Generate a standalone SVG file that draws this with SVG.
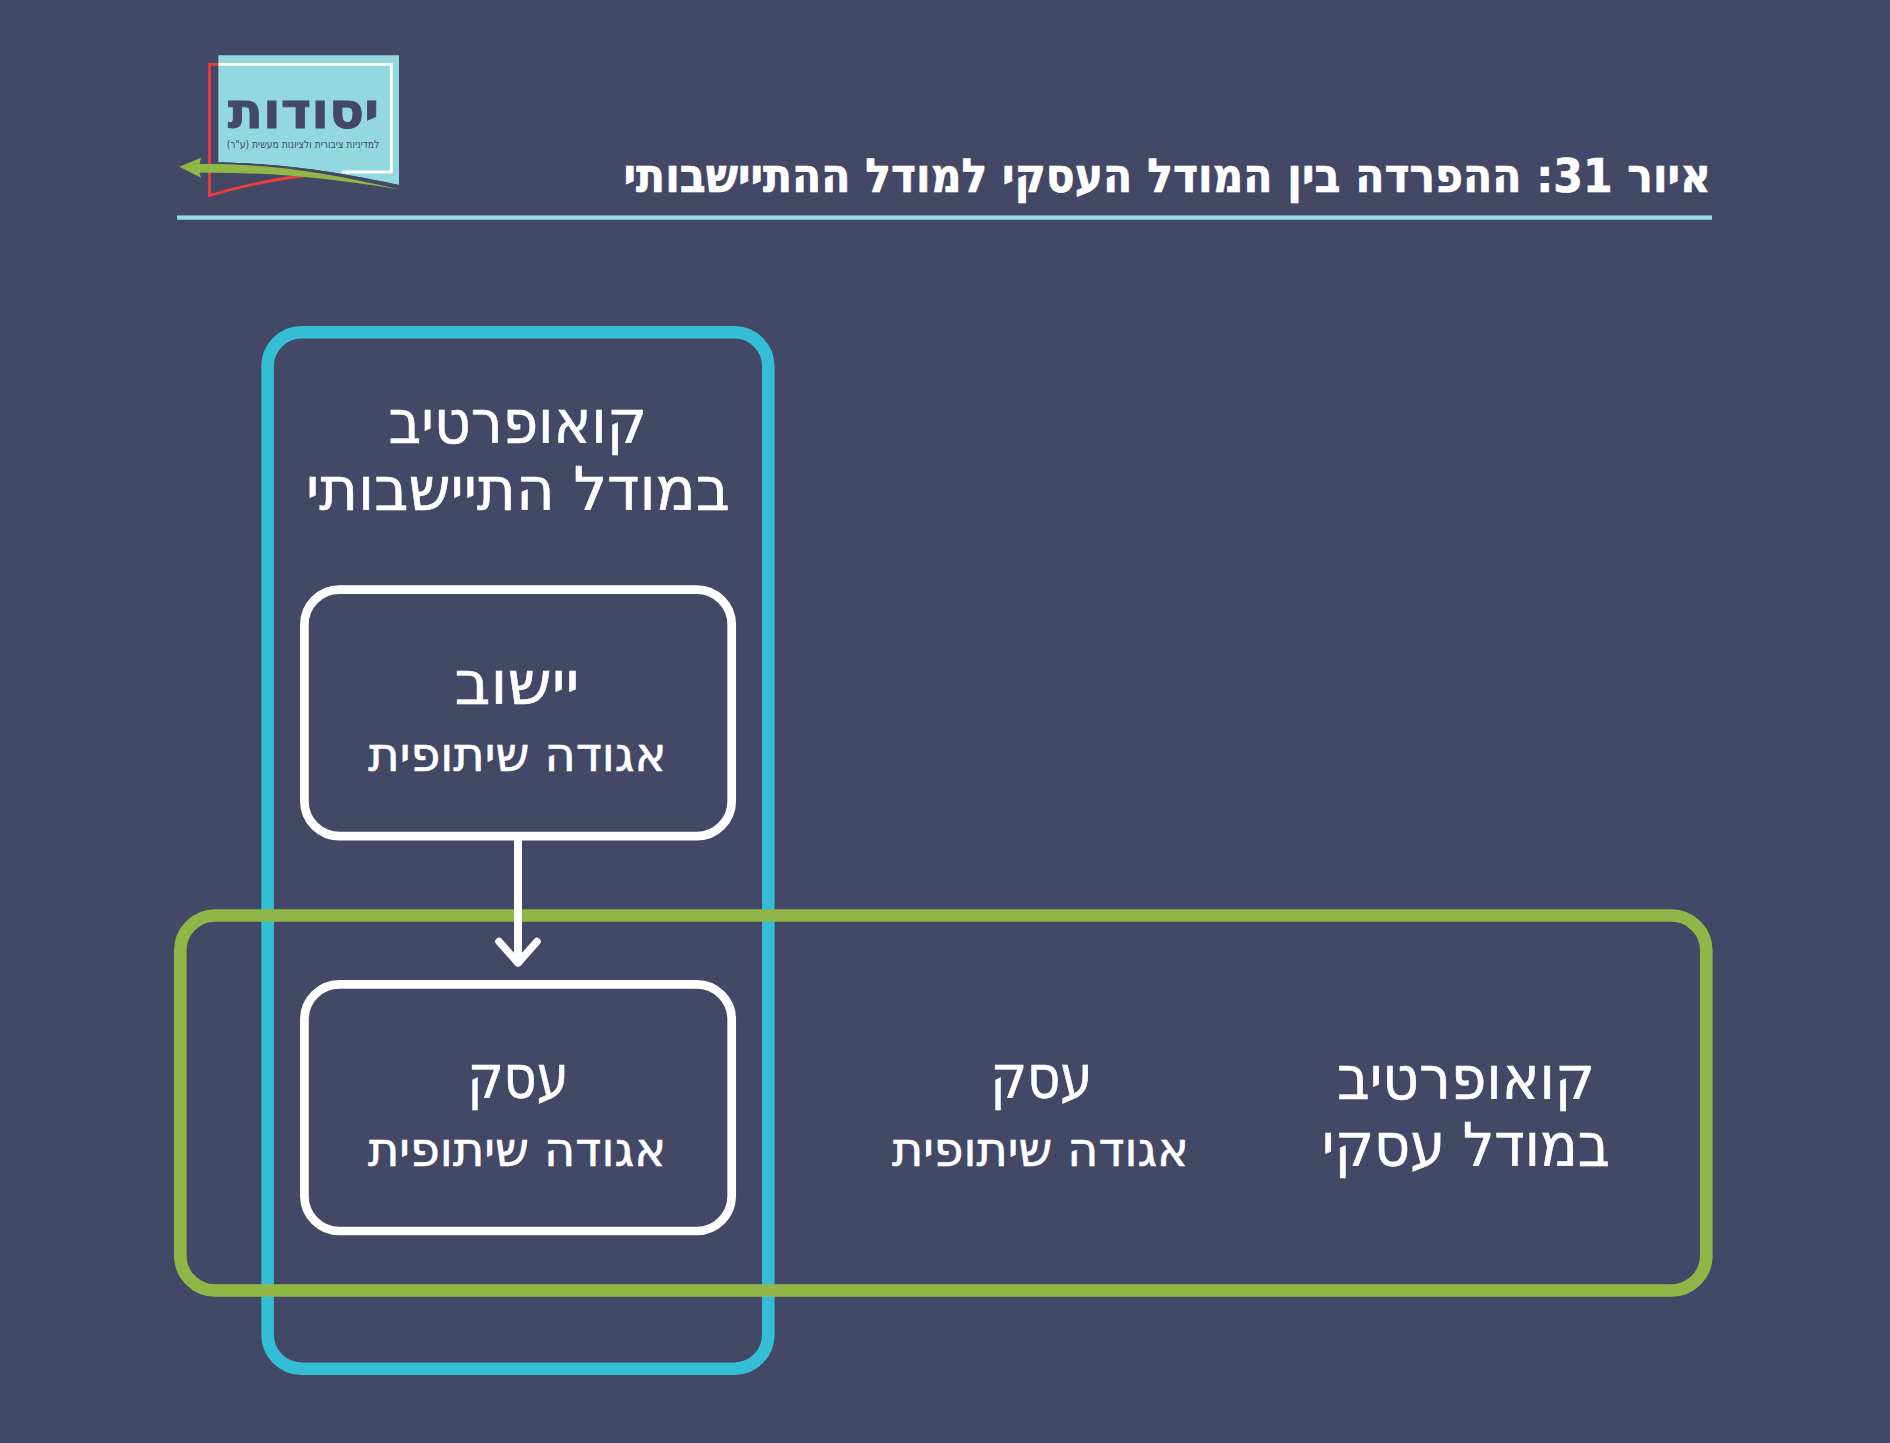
<svg xmlns="http://www.w3.org/2000/svg" width="1890" height="1443" viewBox="0 0 1890 1443">
<style>
.bg{fill:#434867}
.box{fill:none;stroke-linejoin:round}
.t{fill:#fff;font-family:"DejaVu Sans","Liberation Sans",sans-serif;direction:rtl;text-anchor:middle;stroke:#fff;stroke-width:.6px}
.h{font-size:60px}
.s{font-size:48px}
.lg{direction:rtl;text-anchor:middle;fill:#434867;font-family:"DejaVu Sans","Liberation Sans",sans-serif}
</style>
<rect class="bg" width="1890" height="1443"/>
<g id="logo">
<path d="M218.3 55.3H399V185C347 174 293 164 218.3 162.3Z" fill="#93d7e0"/>
<path d="M218.3 64.3H391.3V172H341.7" fill="none" stroke="#fff" stroke-width="2.8"/>
<path d="M218.3 64.3H209.5V195.5C245 185 285 177 320 174" fill="none" stroke="#ee3d38" stroke-width="2.8"/>
<path d="M218.3 162.3C293 164 347 174 399 185L400 187.5C340 176 290 167 218.3 165.6Z" fill="#434867"/>
<path d="M179.3 166.7L201 157.7L199.5 164C265 163 325 172 400 189.5C322 177 262 172 199.5 172.8L201 177.7Z" fill="#91b648"/>
<text class="lg" x="303.5" y="127.7" font-weight="700" font-size="50" stroke="#434867" stroke-width=".8" textLength="151.6" lengthAdjust="spacingAndGlyphs">יסודות</text>
<text class="lg" x="303" y="148.3" font-size="11" textLength="152.6" lengthAdjust="spacingAndGlyphs">למדיניות ציבורית ולציונות מעשית (ע"ר)</text>
</g>
<g id="title">
<text x="1167.3" y="192" stroke="#fff" stroke-width=".7" style="direction:rtl;text-anchor:middle;font-family:'DejaVu Sans','Liberation Sans',sans-serif;font-weight:700;font-size:47px;fill:#fff" textLength="1087.5" lengthAdjust="spacingAndGlyphs">איור 31: ההפרדה בין המודל העסקי למודל ההתיישבותי</text>
<rect x="177" y="215.4" width="1535" height="4.4" fill="#93d7e0"/>
</g>
<g id="settlement-model">
<rect class="box" x="267.6" y="332.3" width="500.7" height="1036.4" rx="34" stroke="#33bed5" stroke-width="12.6"/>
<text class="t h" x="517.8" y="443.4" textLength="258.4" lengthAdjust="spacingAndGlyphs">קואופרטיב</text>
<text class="t h" x="518" y="510.3" textLength="424.2" lengthAdjust="spacingAndGlyphs">במודל התיישבותי</text>
</g>
<g id="business-model">
<rect class="box" x="180.3" y="915.5" width="1526" height="375" rx="35" stroke="#91b648" stroke-width="12.6"/>
<text class="t h" x="1466" y="1099" textLength="258" lengthAdjust="spacingAndGlyphs">קואופרטיב</text>
<text class="t h" x="1466" y="1165.7" textLength="288" lengthAdjust="spacingAndGlyphs">במודל עסקי</text>
</g>
<g id="settlement">
<rect class="box" x="304.4" y="589.6" width="427.3" height="246.6" rx="35" stroke="#fff" stroke-width="8.7"/>
<text class="t h" x="517" y="703.7" textLength="125" lengthAdjust="spacingAndGlyphs">יישוב</text>
<text class="t s" x="517.4" y="770.7" textLength="298.2" lengthAdjust="spacingAndGlyphs">אגודה שיתופית</text>
</g>
<g id="business">
<rect class="box" x="304.4" y="984.3" width="427.3" height="246.7" rx="35" stroke="#fff" stroke-width="8.7"/>
<text class="t h" x="518" y="1098.4" textLength="101.2" lengthAdjust="spacingAndGlyphs">עסק</text>
<text class="t s" x="517" y="1165.5" textLength="298.2" lengthAdjust="spacingAndGlyphs">אגודה שיתופית</text>
</g>
<g id="business-outer">
<text class="t h" x="1041.5" y="1098.4" textLength="102" lengthAdjust="spacingAndGlyphs">עסק</text>
<text class="t s" x="1040.4" y="1165.5" textLength="297" lengthAdjust="spacingAndGlyphs">אגודה שיתופית</text>
</g>
<g id="connectors" fill="none" stroke="#fff" stroke-linecap="round" stroke-linejoin="round">
<path d="M518 836V962" stroke-width="8"/>
<path d="M499 941.5L518 963L537 941.5" stroke-width="7.5"/>
</g>
</svg>
